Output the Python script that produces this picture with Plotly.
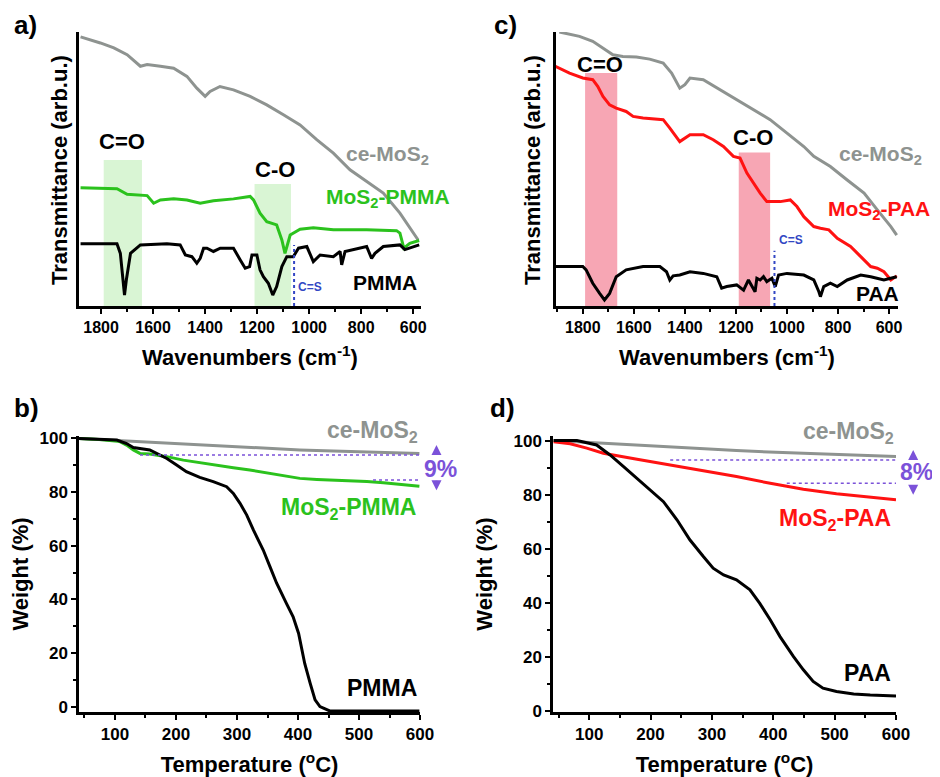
import plotly.graph_objects as go

# ---- FTIR, panel a (PMMA) ----
wn_ce_a = [1879, 1803, 1751, 1700, 1649, 1623, 1572, 1521, 1470, 1432, 1400, 1381, 1343, 1291, 1227,
           1163, 1099, 1035, 971, 907, 843, 779, 715, 651, 600, 581]
tr_ce_a = [98.2, 96.0, 94.2, 91.7, 87.5, 88.1, 87.5, 86.8, 83.8, 79.5, 76.5, 78.3, 80.1, 78.9, 76.5,
           73.4, 69.8, 66.1, 60.7, 55.8, 49.7, 45.4, 41.2, 33.9, 26.6, 24.1]

wn_mos_pmma = [1879, 1803, 1739, 1700, 1649, 1623, 1598, 1572, 1521, 1470, 1419, 1368, 1291, 1227, 1214,
               1189, 1163, 1125, 1105, 1093, 1073, 1035, 984, 907, 779, 664, 651, 636, 613, 577]
tr_mos_pmma = [43.2, 43.0, 42.8, 40.8, 40.6, 40.3, 37.5, 38.7, 39.1, 38.7, 37.5, 38.4, 39.1, 40.0, 38.7,
               33.9, 30.8, 29.6, 24.1, 19.2, 25.9, 28.0, 28.6, 27.8, 27.8, 27.5, 26.6, 21.1, 22.9, 23.9]

wn_pmma = [1879, 1739, 1726, 1716, 1710, 1703, 1687, 1649, 1547, 1496, 1476, 1451, 1432, 1419, 1406,
           1393, 1368, 1342, 1291, 1265, 1246, 1229, 1220, 1201, 1189, 1176, 1157, 1140, 1125, 1105,
           1086, 1061, 1041, 1009, 997, 984, 958, 907, 881, 875, 862, 805, 779, 760, 747, 715, 651, 632, 577]
tr_pmma = [22.7, 22.7, 19.2, 9.5, 4.0, 9.5, 19.2, 22.3, 22.7, 22.3, 18.6, 18.0, 15.6, 17.4, 21.1,
           21.1, 19.9, 21.1, 21.1, 16.8, 13.8, 14.4, 18.6, 18.6, 13.2, 10.7, 8.3, 4.0, 7.1, 14.4,
           18.0, 18.0, 21.1, 21.7, 19.2, 16.2, 18.6, 18.0, 19.9, 15.0, 19.9, 21.1, 21.7, 17.4, 19.2, 21.7, 22.3, 20.6, 22.3]

# ---- FTIR, panel c (PAA) ----
wn_ce_c = [1892, 1813, 1761, 1721, 1682, 1643, 1590, 1538, 1485, 1452, 1420, 1400, 1380, 1328, 1262,
           1197, 1131, 1066, 1000, 934, 895, 830, 764, 698, 646, 593, 570]
tr_ce_c = [100, 98.4, 96.6, 94.2, 91.7, 91.1, 90.9, 90.1, 88.7, 85.0, 79.5, 80.8, 83.2, 82.6, 78.9,
           75.3, 71.6, 68.0, 63.1, 58.2, 54.6, 50.9, 46.0, 41.2, 35.1, 29.0, 25.9]

wn_mos_paa = [1908, 1852, 1800, 1761, 1741, 1721, 1695, 1669, 1630, 1603, 1564, 1485, 1459, 1420, 1380,
              1328, 1289, 1249, 1210, 1184, 1157, 1131, 1105, 1079, 1026, 987, 961, 934, 895, 869,
              836, 803, 751, 711, 672, 646, 620, 593, 570]
tr_mos_paa = [87.5, 85.0, 83.2, 82.6, 80.1, 76.5, 73.4, 72.2, 71.0, 69.2, 68.6, 68.0, 64.9, 60.0, 62.5,
              62.5, 60.7, 58.2, 54.6, 54.0, 48.5, 44.8, 41.2, 38.1, 38.1, 38.7, 36.3, 32.6, 29.0, 28.4,
              27.8, 24.7, 21.7, 18.0, 14.4, 13.8, 12.5, 9.5, 11.0]

wn_paa = [1908, 1800, 1787, 1761, 1734, 1715, 1695, 1669, 1630, 1564, 1498, 1472, 1459, 1446, 1420,
          1380, 1328, 1275, 1256, 1236, 1197, 1170, 1151, 1138, 1125, 1118, 1105, 1092, 1079, 1059,
          1046, 1033, 1000, 934, 895, 875, 869, 856, 830, 803, 764, 711, 672, 620, 593, 570]
tr_paa = [14.4, 14.4, 13.2, 8.3, 4.6, 2.2, 4.6, 10.7, 13.2, 14.4, 14.4, 12.5, 9.5, 11.0, 11.3,
          12.5, 11.9, 10.7, 6.5, 7.1, 7.7, 5.8, 9.5, 7.1, 5.2, 10.1, 9.5, 10.7, 8.9, 10.1,
          7.1, 11.3, 11.9, 11.3, 9.5, 5.2, 3.4, 7.1, 8.3, 7.1, 9.5, 11.3, 10.7, 9.5, 10.1, 10.7]

# ---- TGA, panel b ----
t_ce_b = [41, 75, 130, 185, 239, 294, 349, 403, 458, 513, 567, 599]
w_ce_b = [100, 99.6, 99.0, 98.4, 97.8, 96.9, 96.3, 95.7, 95.3, 95.0, 94.7, 94.4]

t_mos_pmma = [41, 75, 108, 119, 130, 141, 157, 185, 212, 239, 267, 294, 321, 349, 376, 403, 431, 458,
              485, 513, 540, 567, 599]
w_mos_pmma = [100, 99.6, 98.8, 97.5, 95.7, 94.4, 94.2, 93.2, 91.9, 90.9, 90.1, 89.1, 88.2, 87.2, 86.0,
              85.1, 84.7, 84.5, 84.2, 83.9, 83.5, 83.0, 82.2]

t_pmma = [41, 75, 103, 119, 130, 157, 168, 185, 201, 217, 239, 261, 283, 294, 305, 316, 327, 343, 354,
          365, 381, 392, 401, 406, 411, 420, 428, 436, 452, 513, 599]
w_pmma = [100, 99.8, 99.4, 98.1, 96.6, 95.7, 94.4, 92.5, 90.1, 87.6, 85.5, 83.9, 82.0, 79.5, 75.8,
          71.4, 65.8, 58.4, 52.2, 46.0, 38.5, 33.5, 27.3, 21.1, 16.1, 8.7, 2.5, 0, -1.6, -1.6, -1.6]

# ---- TGA, panel d ----
t_ce_d = [42, 123, 232, 340, 449, 503, 558, 600]
w_ce_d = [100, 99.0, 97.8, 96.3, 95.3, 94.9, 94.6, 94.1]

t_mos_paa = [42, 69, 96, 123, 178, 232, 286, 340, 395, 449, 503, 558, 600]
w_mos_paa = [99.6, 98.8, 97.2, 95.3, 93.1, 91.0, 88.9, 86.7, 84.2, 82.0, 80.3, 79.0, 78.1]

t_paa = [42, 80, 112, 134, 156, 178, 199, 221, 243, 264, 286, 302, 319, 340, 362, 378, 395, 411,
         433, 449, 465, 481, 503, 531, 558, 600]
w_paa = [100, 100, 98.4, 94.7, 90.4, 86.1, 81.8, 77.4, 70.7, 63.3, 57.1, 52.8, 50.3, 48.5, 44.8,
         39.8, 33.7, 27.5, 20.1, 15.2, 10.9, 8.4, 7.2, 6.3, 5.9, 5.5]

GRAY = '#8e9390'
GREEN = '#2bc21d'
RED = '#ff1212'
PURPLE = '#7b52d9'
BLUE = '#3347c4'
FONT = 'Liberation Sans, Arial, sans-serif'

XR_A, XR_C = [1885, 570], [1905, 565]
TR_X = [41, 600]
YR_B, YR_D = [-2, 100.9], [-0.4, 101.7]

# the page body adds an 8px margin, so the figure is 8px smaller each way
W, H, OFF = 932, 769, 8

def dx(p):
    return (p - OFF) / W

def dy(p):
    return 1 - (p - OFF) / H

fig = go.Figure()

def line(x, y, color, xa, ya):
    fig.add_trace(go.Scatter(x=x, y=y, mode='lines', line=dict(color=color, width=3),
                             xaxis=xa, yaxis=ya, showlegend=False, hoverinfo='skip'))

line(wn_ce_a, tr_ce_a, GRAY, 'x', 'y')
line(wn_mos_pmma, tr_mos_pmma, GREEN, 'x', 'y')
line(wn_pmma, tr_pmma, 'black', 'x', 'y')

line(wn_ce_c, tr_ce_c, GRAY, 'x3', 'y3')
line(wn_mos_paa, tr_mos_paa, RED, 'x3', 'y3')
line(wn_paa, tr_paa, 'black', 'x3', 'y3')

line(t_ce_b, w_ce_b, GRAY, 'x2', 'y2')
line(t_mos_pmma, w_mos_pmma, GREEN, 'x2', 'y2')
line(t_pmma, w_pmma, 'black', 'x2', 'y2')

line(t_ce_d, w_ce_d, GRAY, 'x4', 'y4')
line(t_mos_paa, w_mos_paa, RED, 'x4', 'y4')
line(t_paa, w_paa, 'black', 'x4', 'y4')

# shaded bands
shapes = []
for x0, x1, top in [(1790, 1643, 53.3), (1210, 1070, 44.5)]:
    shapes.append(dict(type='rect', xref='x', yref='y', x0=x0, x1=x1, y0=0, y1=top,
                       fillcolor='#d9f5d4', line=dict(width=0), layer='below'))
for x0, x1, top in [(1791, 1665, 85.0), (1189, 1066, 56.0)]:
    shapes.append(dict(type='rect', xref='x3', yref='y3', x0=x0, x1=x1, y0=0, y1=top,
                       fillcolor='#f7a6b4', line=dict(width=0), layer='below'))
# C=S markers
shapes.append(dict(type='line', xref='x', yref='y', x0=1058, x1=1058, y0=0, y1=22.3,
                   line=dict(color=BLUE, width=2, dash='dot')))
shapes.append(dict(type='line', xref='x3', yref='y3', x0=1049, x1=1049, y0=0, y1=20.2,
                   line=dict(color=BLUE, width=2, dash='dot')))
# TGA guide lines
for xa, ya, x0, x1, yv in [('x2', 'y2', 141, 599, 93.8), ('x2', 'y2', 523, 599, 84.5),
                           ('x4', 'y4', 232, 600, 92.8), ('x4', 'y4', 422, 600, 84.2)]:
    shapes.append(dict(type='line', xref=xa, yref=ya, x0=x0, x1=x1, y0=yv, y1=yv,
                       line=dict(color=PURPLE, width=1.5, dash='dot')))

def txt(x, y, s, color, size, xa, ya, xanchor='center'):
    return dict(x=x, y=y, xref=xa, yref=ya, text=s, showarrow=False, xanchor=xanchor, yanchor='middle',
                font=dict(family=FONT, size=size, color=color))

def frac(v, rng):
    return (v - rng[0]) / (rng[1] - rng[0])

B = lambda s: '<b>' + s + '</b>'
ann = [
    txt(1719, 60, B('C=O'), 'black', 22, 'x', 'y'),
    txt(1131, 50, B('C-O'), 'black', 22, 'x', 'y'),
    txt(1052, 7, B('C=S'), BLUE, 12, 'x', 'y', 'left'),
    txt(700, 55, B('ce-MoS<sub>2</sub>'), GRAY, 21, 'x', 'y'),
    txt(697, 39.5, B('MoS<sub>2</sub>-PMMA'), GREEN, 21, 'x', 'y'),
    txt(709, 8.5, B('PMMA'), 'black', 21, 'x', 'y'),

    txt(1732, 88, B('C=O'), 'black', 22, 'x3', 'y3'),
    txt(1134, 61.5, B('C-O'), 'black', 22, 'x3', 'y3'),
    txt(1040, 24, B('C=S'), BLUE, 12, 'x3', 'y3', 'left'),
    txt(634, 55, B('ce-MoS<sub>2</sub>'), GRAY, 21, 'x3', 'y3'),
    txt(638, 35, B('MoS<sub>2</sub>-PAA'), RED, 21, 'x3', 'y3'),
    txt(646, 4.6, B('PAA'), 'black', 21, 'x3', 'y3'),
]

# TGA labels (some sit outside the axes, so place them in domain fractions)
for xa, ya, xr, yr, x, y, s, c, anc in [
        ('x2', 'y2', TR_X, YR_B, 600, 102.5, 'ce-MoS<sub>2</sub>', GRAY, 'right'),
        ('x2', 'y2', TR_X, YR_B, 597, 73.9, 'MoS<sub>2</sub>-PMMA', GREEN, 'right'),
        ('x2', 'y2', TR_X, YR_B, 599, 6.8, 'PMMA', 'black', 'right'),
        ('x2', 'y2', TR_X, YR_B, 633, 88.6, '9%', PURPLE, 'center'),
        ('x4', 'y4', TR_X, YR_D, 600, 103, 'ce-MoS<sub>2</sub>', GRAY, 'right'),
        ('x4', 'y4', TR_X, YR_D, 595, 70.7, 'MoS<sub>2</sub>-PAA', RED, 'right'),
        ('x4', 'y4', TR_X, YR_D, 595, 14.2, 'PAA', 'black', 'right'),
        ('x4', 'y4', TR_X, YR_D, 634, 88.5, '8%', PURPLE, 'center')]:
    ann.append(txt(frac(x, xr), frac(y, yr), B(s), c, 23, xa + ' domain', ya + ' domain', anc))

# small double arrows next to the percentages
for xa, ya, yr, xv, top, bot in [('x2', 'y2', YR_B, 627, 97.5, 80.7), ('x4', 'y4', YR_D, 628, 96.5, 80.0)]:
    for tip, off in ((top, 11), (bot, -11)):
        ann.append(dict(x=frac(xv, TR_X), y=frac(tip, yr), xref=xa + ' domain', yref=ya + ' domain',
                        ax=0, ay=off, text='', showarrow=True, arrowhead=2, arrowsize=1,
                        arrowwidth=2, arrowcolor=PURPLE))

# panel letters
for x, y, s in [(12, 8, 'a)'), (12, 391, 'b)'), (492, 8, 'c)'), (488, 391, 'd)')]:
    ann.append(dict(x=dx(x), y=dy(y), xref='paper', yref='paper', text=B(s), showarrow=False,
                    xanchor='left', yanchor='top', font=dict(family=FONT, size=26, color='black')))

# FTIR y titles placed directly (no tick labels on these axes)
for x in (60, 533):
    ann.append(dict(x=dx(x), y=dy(170), xref='paper', yref='paper', text=B('Transmittance (arb.u.)'),
                    showarrow=False, textangle=-90, xanchor='center', yanchor='middle',
                    font=dict(family=FONT, size=22, color='black')))

titlefont = dict(family=FONT, size=22, color='black')
common = dict(showline=True, linecolor='black', linewidth=2.5, showgrid=False, zeroline=False,
              automargin=False)
ticks = dict(ticks='outside', ticklen=5, tickwidth=2, tickcolor='black',
             tickprefix='<b>', ticksuffix='</b>')

def ir_x(domain, rng, anchor):
    return dict(domain=domain, range=rng, anchor=anchor, tick0=0, dtick=200,
                minor=dict(ticks='outside', ticklen=3, tickwidth=1.5, dtick=100, tickcolor='black'),
                tickfont=dict(family=FONT, size=16, color='black'),
                title=dict(text=B('Wavenumbers (cm<sup>-1</sup>)'), font=titlefont), **common, **ticks)

def ir_y(domain, anchor):
    return dict(domain=domain, anchor=anchor, range=[0, 100], showticklabels=False, ticks='', **common)

def tga_x(domain, anchor):
    return dict(domain=domain, anchor=anchor, range=TR_X, tick0=0, dtick=100,
                minor=dict(ticks='outside', ticklen=3, tickwidth=1.5, dtick=50, tickcolor='black'),
                tickfont=dict(family=FONT, size=17, color='black'),
                title=dict(text=B('Temperature (<sup>o</sup>C)'), font=titlefont), **common, **ticks)

def tga_y(domain, anchor, rng):
    return dict(domain=domain, anchor=anchor, range=rng, tick0=0, dtick=20,
                minor=dict(ticks='outside', ticklen=3, tickwidth=1.5, dtick=10, tickcolor='black'),
                tickfont=dict(family=FONT, size=17, color='black'),
                title=dict(text=B('Weight (%)'), font=titlefont), **common, **ticks)

top_dom = [dy(306), dy(32)]
bot_dom = [dy(712), dy(436)]

fig.update_layout(
    width=W, height=H,
    margin=dict(l=0, r=0, t=0, b=0, autoexpand=False),
    paper_bgcolor='white', plot_bgcolor='white',
    xaxis=ir_x([dx(79), dx(421)], XR_A, 'y'),
    yaxis=ir_y(top_dom, 'x'),
    xaxis3=ir_x([dx(556), dx(898)], XR_C, 'y3'),
    yaxis3=ir_y(top_dom, 'x3'),
    xaxis2=tga_x([dx(79), dx(420)], 'y2'),
    yaxis2=tga_y(bot_dom, 'x2', YR_B),
    xaxis4=tga_x([dx(553), dx(896)], 'y4'),
    yaxis4=tga_y(bot_dom, 'x4', YR_D),
    shapes=shapes,
    annotations=ann,
    font=dict(family=FONT),
)

fig.write_html("out.html")
